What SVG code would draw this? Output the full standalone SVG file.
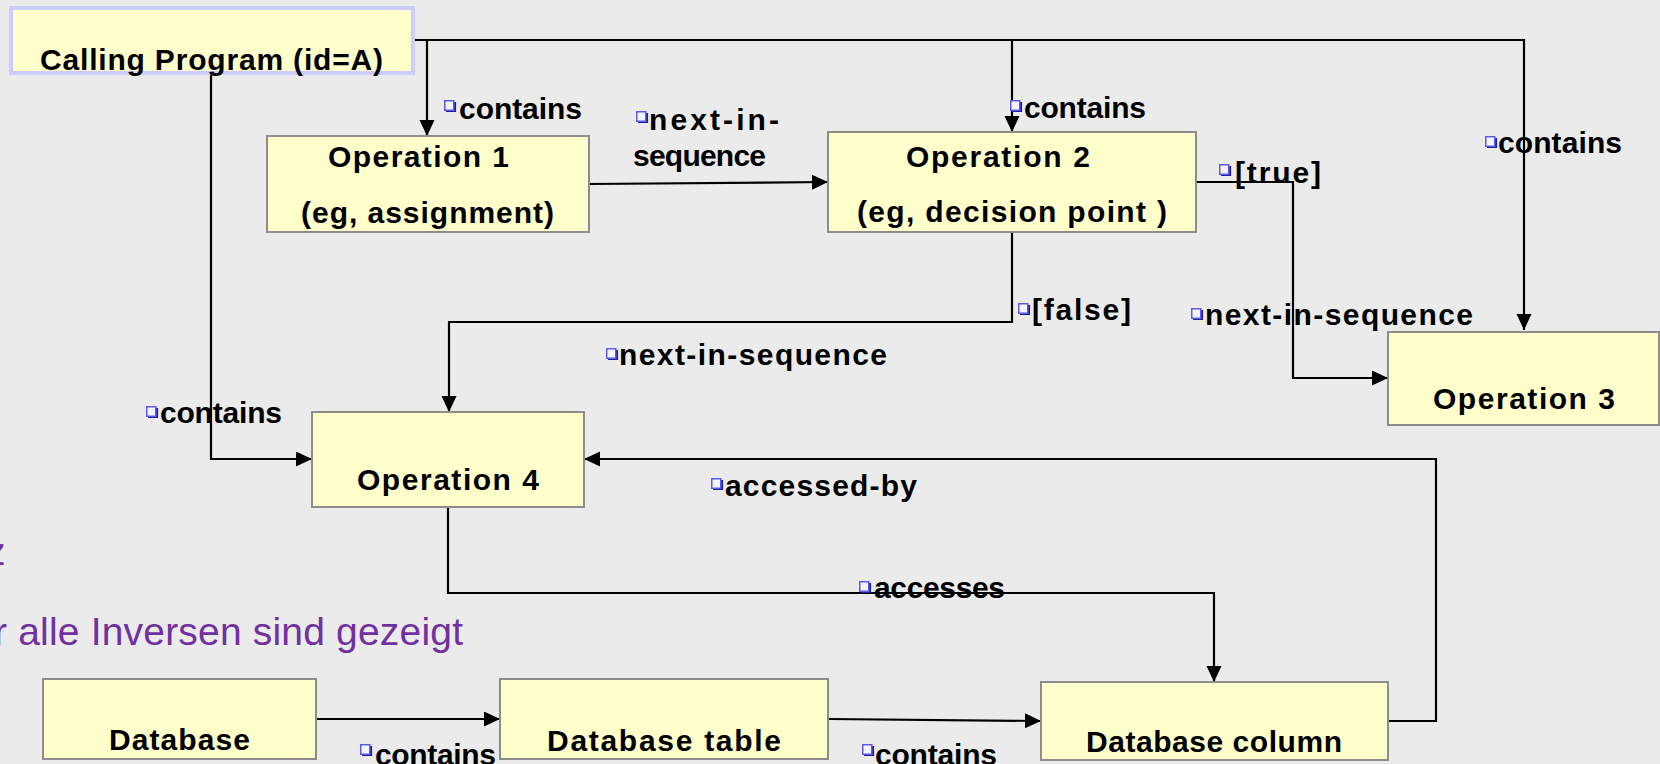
<svg xmlns="http://www.w3.org/2000/svg" xmlns:xlink="http://www.w3.org/1999/xlink" width="1660" height="764" viewBox="0 0 1660 764">
  <style>
    .box { fill: #ffffcc; stroke: #8c8c8c; stroke-width: 2; }
    .root { fill: #ffffcc; stroke: #ccccff; stroke-width: 4; }
    .lbl { font-family: "Liberation Sans", Arial, sans-serif; font-weight: bold; font-size: 30px; fill: #000; }
    .edge { fill: none; stroke: #000; stroke-width: 2.2; }
    .note { font-family: "Liberation Sans", Arial, sans-serif; font-size: 39px; fill: #7030a0; }
  </style>
  <defs>
    <marker id="arrow" markerUnits="userSpaceOnUse" markerWidth="18" markerHeight="16" refX="16" refY="7.5" orient="auto">
      <path d="M0,0 L16,7.5 L0,15 Z" fill="#000"/>
    </marker>
    <!-- small square bullet placed before each relation label -->
    <g id="bullet">
      <path d="M2,11 H11 V2" fill="none" stroke="#1e1e9e" stroke-width="2.2"/>
      <rect x="0.75" y="0.75" width="9" height="9.5" fill="#f4f4ff" stroke="#5a5ae6" stroke-width="1.5"/>
    </g>
  </defs>

  <rect width="1660" height="764" fill="#ebebeb"/>

  <!-- side notes -->
  <text class="note" x="-14" y="565">z</text>
  <text class="note" x="-6" y="645" textLength="469">r alle Inversen sind gezeigt</text>

  <!-- connectors -->
  <g id="connectors">
    <path class="edge" d="M413,40 H1524 V330" marker-end="url(#arrow)"/>
    <path class="edge" d="M427,40 V136" marker-end="url(#arrow)"/>
    <path class="edge" d="M1012,40 V132" marker-end="url(#arrow)"/>
    <path class="edge" d="M589,184 L828,182" marker-end="url(#arrow)"/>
    <path class="edge" d="M1196,182 H1293 V378 H1388" marker-end="url(#arrow)"/>
    <path class="edge" d="M1012,232 V322 H449 V412" marker-end="url(#arrow)"/>
    <path class="edge" d="M211,73 V459 H312" marker-end="url(#arrow)"/>
    <path class="edge" d="M1388,721 H1436 V459 H584" marker-end="url(#arrow)"/>
    <path class="edge" d="M448,507 V593 H1214 V682" marker-end="url(#arrow)"/>
    <path class="edge" d="M316,719 H500" marker-end="url(#arrow)"/>
    <path class="edge" d="M828,719 L1041,721" marker-end="url(#arrow)"/>

    <!-- relation labels -->
    <use xlink:href="#bullet" x="444" y="100"/>
    <text class="lbl" x="459" y="119" textLength="123">contains</text>
    <use xlink:href="#bullet" x="636" y="111"/>
    <text class="lbl" x="649" y="130" textLength="130">next-in-</text>
    <text class="lbl" x="633" y="166" textLength="133">sequence</text>
    <use xlink:href="#bullet" x="1010" y="100"/>
    <text class="lbl" x="1024" y="118" textLength="122">contains</text>
    <use xlink:href="#bullet" x="1485" y="136"/>
    <text class="lbl" x="1498" y="153" textLength="124">contains</text>
    <use xlink:href="#bullet" x="1219" y="164"/>
    <text class="lbl" x="1235" y="183" textLength="86">[true]</text>
    <use xlink:href="#bullet" x="1018" y="303"/>
    <text class="lbl" x="1032" y="320" textLength="99">[false]</text>
    <use xlink:href="#bullet" x="1191" y="308"/>
    <text class="lbl" x="1205" y="325" textLength="268">next-in-sequence</text>
    <use xlink:href="#bullet" x="606" y="348"/>
    <text class="lbl" x="619" y="365" textLength="268">next-in-sequence</text>
    <use xlink:href="#bullet" x="146" y="406"/>
    <text class="lbl" x="160" y="423" textLength="122">contains</text>
    <use xlink:href="#bullet" x="711" y="478"/>
    <text class="lbl" x="725" y="496" textLength="192">accessed-by</text>
    <use xlink:href="#bullet" x="859" y="581"/>
    <text class="lbl" x="874" y="598" textLength="131">accesses</text>
    <use xlink:href="#bullet" x="360" y="744"/>
    <text class="lbl" x="375" y="765" textLength="121">contains</text>
    <use xlink:href="#bullet" x="862" y="744"/>
    <text class="lbl" x="875" y="765" textLength="122">contains</text>
  </g>

  <!-- nodes -->
  <g id="calling-program">
    <rect class="root" x="11" y="8" width="402" height="65"/>
    <text class="lbl" x="40" y="70" textLength="343">Calling Program (id=A)</text>
  </g>
  <g id="operation-1">
    <rect class="box" x="267" y="136" width="322" height="96"/>
    <text class="lbl" x="328" y="167" textLength="181">Operation 1</text>
    <text class="lbl" x="301" y="223" textLength="253">(eg, assignment)</text>
  </g>
  <g id="operation-2">
    <rect class="box" x="828" y="132" width="368" height="100"/>
    <text class="lbl" x="906" y="167" textLength="184">Operation 2</text>
    <text class="lbl" x="857" y="222" textLength="310">(eg, decision point )</text>
  </g>
  <g id="operation-3">
    <rect class="box" x="1388" y="332" width="271" height="93"/>
    <text class="lbl" x="1433" y="409" textLength="182">Operation 3</text>
  </g>
  <g id="operation-4">
    <rect class="box" x="312" y="412" width="272" height="95"/>
    <text class="lbl" x="357" y="490" textLength="182">Operation 4</text>
  </g>
  <g id="database">
    <rect class="box" x="43" y="679" width="273" height="80"/>
    <text class="lbl" x="109" y="750" textLength="141">Database</text>
  </g>
  <g id="database-table">
    <rect class="box" x="500" y="679" width="328" height="80"/>
    <text class="lbl" x="547" y="751" textLength="234">Database table</text>
  </g>
  <g id="database-column">
    <rect class="box" x="1041" y="682" width="347" height="78"/>
    <text class="lbl" x="1086" y="752" textLength="256">Database column</text>
  </g>
</svg>
